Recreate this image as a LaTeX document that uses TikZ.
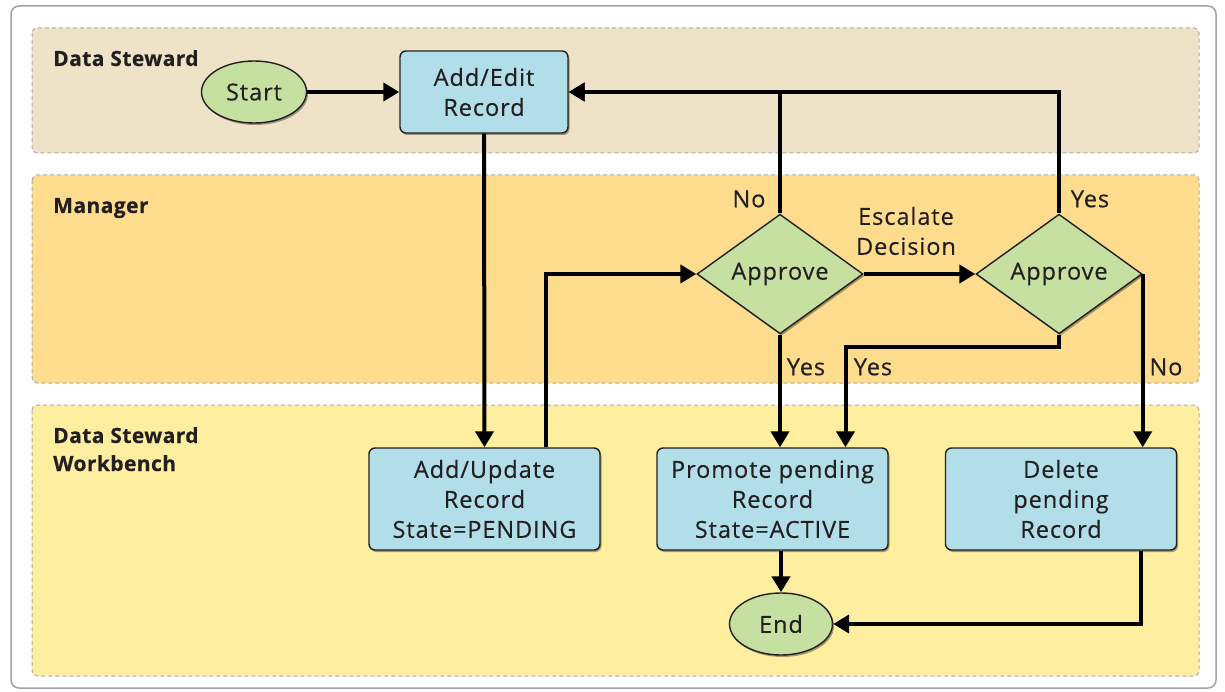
\documentclass[tikz,border=0pt]{standalone}
\usepackage{fontspec}
\setmainfont{Open Sans}[LetterSpace=4, FakeBold=0.3]
\newfontfamily\lanefam{Open Sans}[LetterSpace=2, FakeBold=0.3]
\usetikzlibrary{shapes.geometric,arrows.meta,shadows}
\definecolor{laneA}{HTML}{EEE3C7}
\definecolor{laneB}{HTML}{FDDC8D}
\definecolor{laneC}{HTML}{FEEEA0}
\definecolor{boxblue}{HTML}{B2DEEA}
\definecolor{termgreen}{HTML}{C6E0A2}
\definecolor{lanedash}{HTML}{A9ABB3}
\definecolor{framegrey}{HTML}{9EA2AA}
\definecolor{ink}{HTML}{231F20}
\newcommand{\boxfont}{\fontsize{23.5}{30}\selectfont}
\newcommand{\lblfont}{\fontsize{23.5}{30}\selectfont}
\newcommand{\lanefont}{\lanefam\fontsize{21}{28}\selectfont\bfseries}
\tikzset{
  lane/.style={draw=lanedash, dash pattern=on 4pt off 3pt, line width=1pt, rounded corners=5pt},
  lanelabel/.style={anchor=base west, font=\lanefont, text=ink, align=left, inner sep=0pt},
  myshadow/.style={drop shadow={shadow xshift=1.5pt, shadow yshift=-2pt, opacity=0.35, fill=black}},
  proc/.style={draw=ink, line width=1.4pt, fill=boxblue, rounded corners=6pt, minimum width=231pt, minimum height=102pt, align=center, font=\boxfont, text=ink, inner sep=0pt, myshadow},
  term/.style={ellipse, draw=ink, line width=1.4pt, fill=termgreen, minimum width=105pt, minimum height=62pt, inner sep=0pt, font=\boxfont, text=ink, myshadow},
  decision/.style={diamond, draw=ink, line width=1.4pt, fill=termgreen, minimum width=166pt, minimum height=116pt, inner sep=0pt, font=\boxfont, text=ink, myshadow},
  flow/.style={line width=4pt, draw=black, -{Triangle[length=16pt,width=18pt]}},
  elabel/.style={font=\lblfont, text=ink, inner sep=0pt, align=center},
}
\begin{document}
\begin{tikzpicture}[x=1pt, y=-1pt]
\useasboundingbox (0,0) rectangle (1225,692);
\fill[white] (0,0) rectangle (1225,692);
% outer frame
\draw[framegrey, line width=1.5pt, rounded corners=8pt] (11,6) rectangle (1216,688);
% lanes
\draw[lane, fill=laneA] (32,28) rectangle (1199,153);
\draw[lane, fill=laneB] (32,175) rectangle (1199,383);
\draw[lane, fill=laneC] (32,405) rectangle (1199,676);
\node[lanelabel] (l1) at (53,66) {Data Steward};
\node[lanelabel] (l2) at (53,213) {Manager};
\node[lanelabel] (l3) at (53,443) {Data Steward};
\node[lanelabel] (l4) at (53,471) {Workbench};
% nodes
\node[term] (start) at (254,92) {Start};
\node[proc, minimum width=168pt, minimum height=82pt] (addedit) at (484,92) {Add/Edit\\Record};
\node[decision] (appr1) at (780,274) {Approve};
\node[decision] (appr2) at (1059,274) {Approve};
\node[proc] (addupd) at (484.5,499) {Add/Update\\Record\\State=PENDING};
\node[proc] (promote) at (772.5,499) {Promote pending\\Record\\State=ACTIVE};
\node[proc] (delete) at (1061,499) {Delete\\pending\\Record};
\node[term, minimum width=103pt] (end) at (781,624) {End};
% connectors
\draw[flow] (start) -- (addedit);
\draw[flow] (addedit.south) -- (addupd.north);
\draw[flow] ([xshift=61.5pt]addupd.north) |- (appr1.west);
\draw[flow] (appr1.north) |- (addedit.east);
\draw[flow] (appr2.north) |- (addedit.east);
\draw[flow] (appr1.east) -- (appr2.west);
\draw[flow] (appr1.south) -- (appr1.south |- promote.north);
\draw[flow] (appr2.south) -- ++(0,12) -| ([xshift=73pt]promote.north);
\draw[flow] (appr2.east) -- (appr2.east |- delete.north);
\draw[flow] (end.north |- promote.south) -- (end.north);
\draw[flow] ([xshift=79.5pt]delete.south) |- (end.east);
% labels
\node[elabel] (lno1) at (749,199) {No};
\node[elabel] (lyes1) at (1090,199) {Yes};
\node[elabel] (lesc) at (906,231) {Escalate\\Decision};
\node[elabel] (lyes2) at (806,367) {Yes};
\node[elabel] (lyes3) at (873,367) {Yes};
\node[elabel] (lno2) at (1166,367) {No};
\end{tikzpicture}
\end{document}
